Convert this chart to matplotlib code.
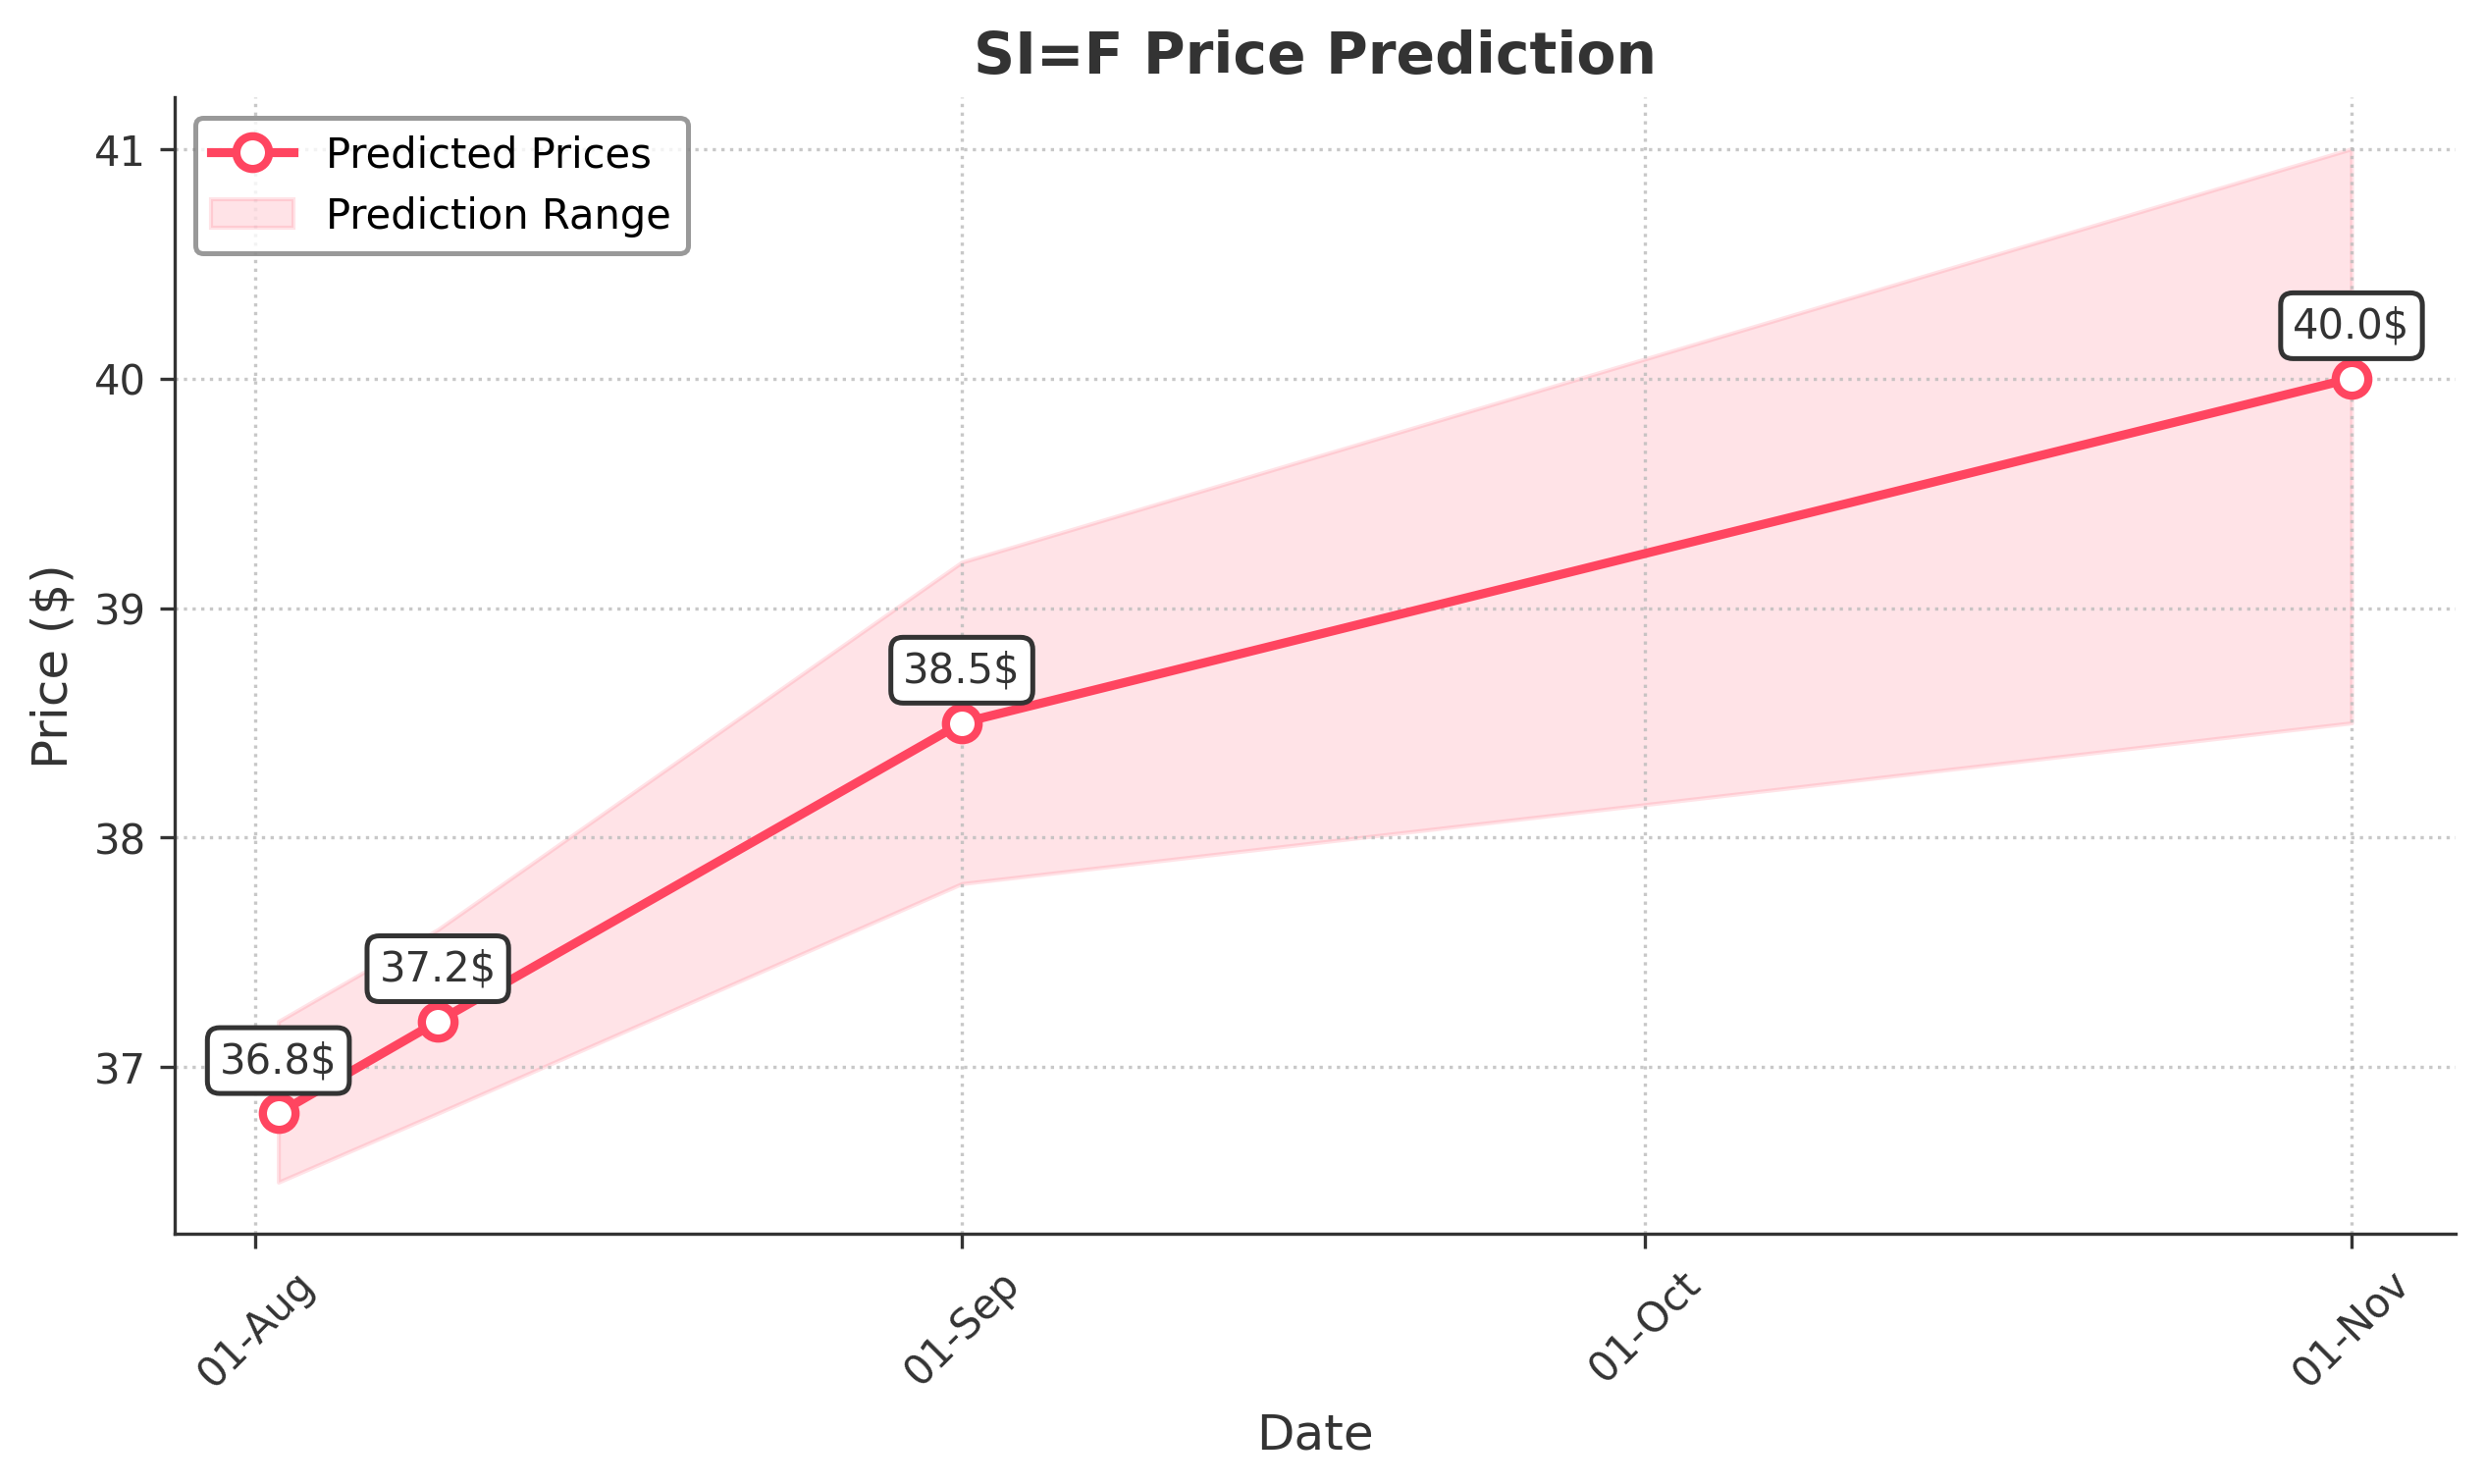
import matplotlib
matplotlib.use("Agg")
import matplotlib.pyplot as plt
import matplotlib.dates as mdates
import pandas as pd

dates = ["2025-08-02", "2025-08-09", "2025-09-01", "2025-11-01"]
predicted = [36.8, 37.2, 38.5, 40.0]
lower = [36.5, 36.8, 37.8, 38.5]
upper = [37.2, 37.6, 39.2, 41.0]

line_color = "#ff4560"
text_color = "#333333"

x = pd.to_datetime(dates)

fig, ax = plt.subplots(figsize=(8.44, 5.043), dpi=300)
fig.subplots_adjust(left=0.0703, right=0.988, top=0.934, bottom=0.1685)

ax.plot(x, predicted, color=line_color, linewidth=2.2, marker="o", markersize=8,
        markerfacecolor="white", markeredgecolor=line_color, markeredgewidth=2,
        label="Predicted Prices", zorder=3)
ax.fill_between(x, lower, upper, color=line_color, alpha=0.15, label="Prediction Range")

for d, p in zip(x, predicted):
    ax.annotate(f"{p:.1f}$", (d, p), xytext=(0, 10), textcoords="offset points",
                ha="center", fontsize=10, color=text_color,
                bbox=dict(boxstyle="round,pad=0.3", facecolor="white",
                          edgecolor=text_color, linewidth=1.2))

ax.xaxis.set_major_locator(mdates.MonthLocator())
ax.xaxis.set_major_formatter(mdates.DateFormatter("%d-%b"))
plt.setp(ax.get_xticklabels(), rotation=45)

ax.set_title("SI=F Price Prediction", fontsize=14, fontweight="bold", color=text_color)
ax.set_xlabel("Date", fontsize=12, color=text_color)
ax.set_ylabel("Price ($)", fontsize=12, color=text_color)
ax.tick_params(labelsize=10, colors=text_color)

ax.grid(True, linestyle=":", color="#bbbbbb", alpha=0.8)
for s in ["top", "right"]:
    ax.spines[s].set_visible(False)
for s in ["left", "bottom"]:
    ax.spines[s].set_color(text_color)

leg = ax.legend(loc="upper left", fontsize=10, frameon=True)
leg.get_frame().set_edgecolor("gray")
leg.get_frame().set_linewidth(1.2)

fig.savefig("out.png", dpi=300)
